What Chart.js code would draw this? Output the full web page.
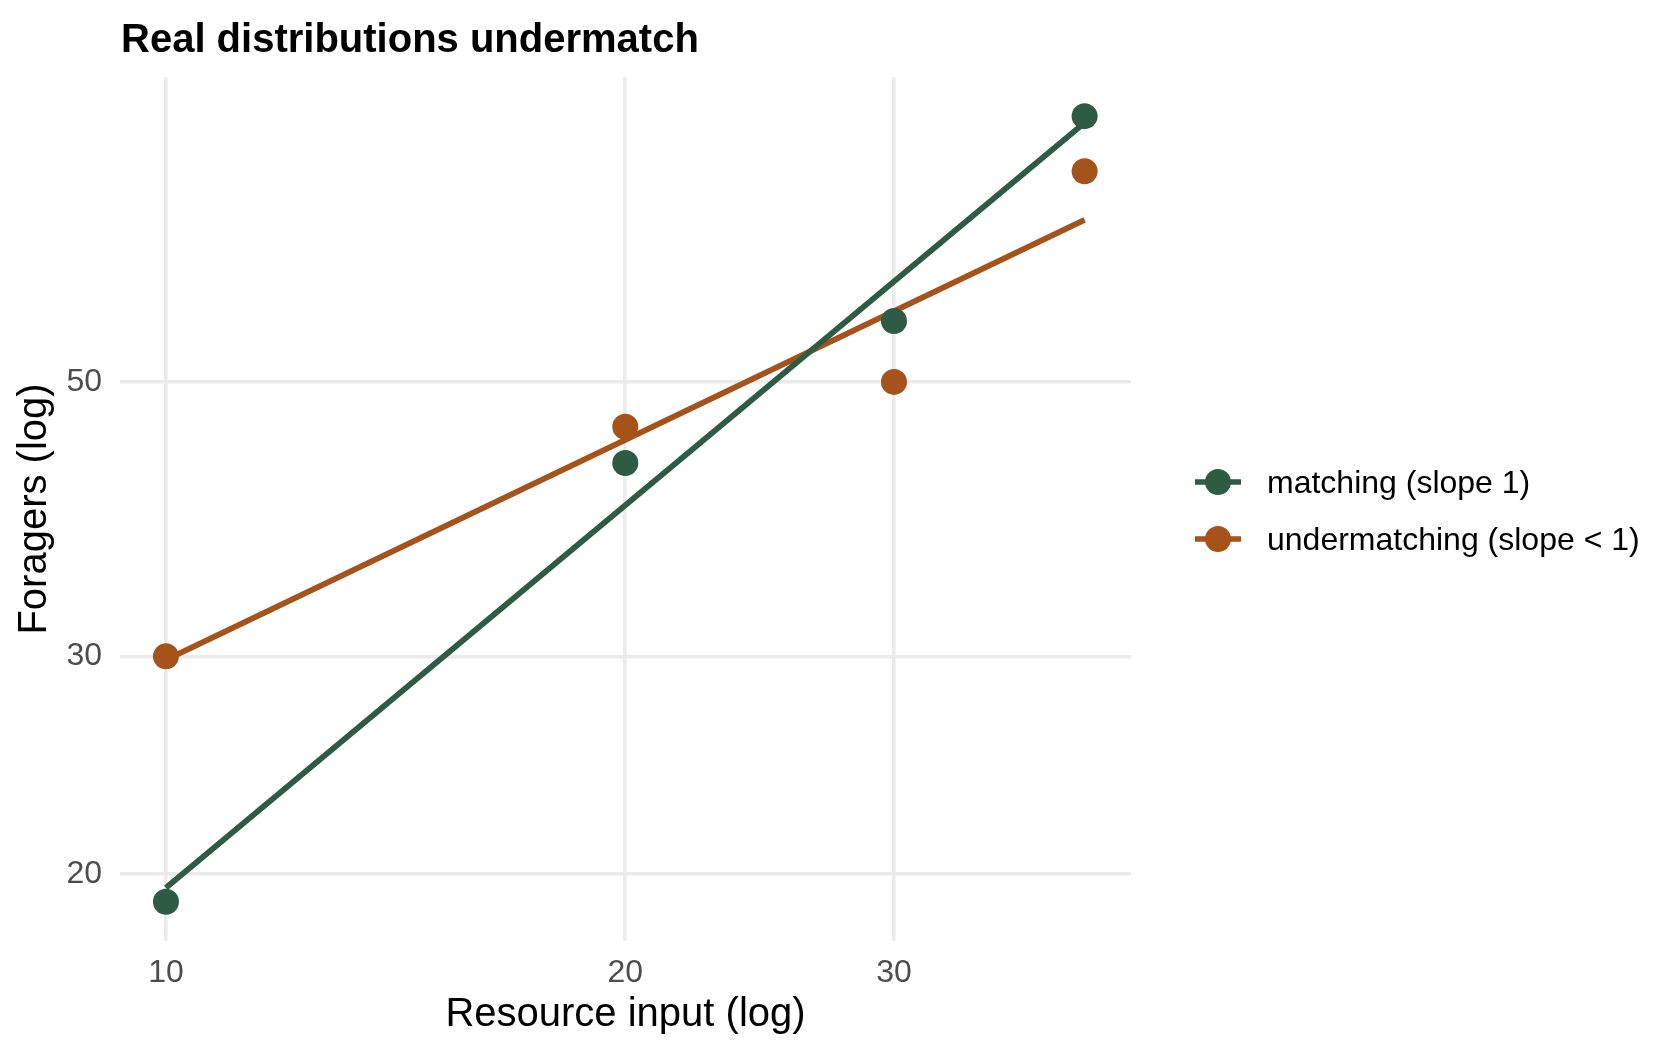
<!DOCTYPE html>
<html>
<head>
<meta charset="utf-8">
<script src="https://cdn.jsdelivr.net/npm/chart.js@4.4.0/dist/chart.umd.min.js"></script>
<style>
  html, body { margin: 0; padding: 0; background: #fff; }
  #wrap { position: relative; width: 1680px; height: 1056px; font-family: "Liberation Sans", Arial, Helvetica, sans-serif; }
  #title { position: absolute; left: 121px; top: 18px; font-size: 40px; line-height: 40px; font-weight: bold; color: #000; white-space: nowrap; }
  .legend-row { position: absolute; left: 1195px; height: 40px; display: flex; align-items: center; font-size: 32px; line-height: 32px; color: #000; white-space: nowrap; }
  .legend-row svg { margin-right: 26px; }
  canvas { position: absolute; left: 0; top: 0; }
</style>
</head>
<body>
<div id="wrap">
  <canvas id="chart" width="1680" height="1056"></canvas>
  <div id="title">Real distributions undermatch</div>
  <div id="legend"></div>
</div>
<script>
// Data (log-log axes)
const resourceInput = [10, 20, 30, 40];
const matchingForagers = [19, 43, 56, 82];
const undermatchingForagers = [30, 46, 50, 74];

// fitted lines, endpoints at the smallest and largest input
const fitInput = [10, 40];
const matchingFit = [19.5, 81];
const undermatchingFit = [29.8, 67.6];

const xTicks = [10, 20, 30];
const yTicks = [20, 30, 50];

const seriesNames = ['matching (slope 1)', 'undermatching (slope < 1)'];
const seriesColors = ['#2d5b43', '#a5521b'];

const FONT = '"Liberation Sans", Arial, Helvetica, sans-serif';

function toPoints(xs, ys) {
  return xs.map((x, i) => ({ x: x, y: ys[i] }));
}

// Legend (html, line through a dot)
function renderLegend() {
  const container = document.getElementById('legend');
  const rowsY = [482, 539];
  container.innerHTML = seriesNames.map((name, i) => `
    <div class="legend-row" style="top:${rowsY[i] - 20}px">
      <svg width="46" height="30" viewBox="0 0 46 30">
        <line x1="0" y1="15" x2="46" y2="15" stroke="${seriesColors[i]}" stroke-width="5.7"/>
        <circle cx="23" cy="15" r="13" fill="${seriesColors[i]}"/>
      </svg>
      <span>${name}</span>
    </div>
  `).join('');
}

function renderChart() {
  const ctx = document.getElementById('chart').getContext('2d');
  new Chart(ctx, {
    type: 'scatter',
    data: {
      datasets: [
        { label: seriesNames[0], data: toPoints(resourceInput, matchingForagers), backgroundColor: seriesColors[0], borderWidth: 0, pointRadius: 13, order: 0 },
        { label: seriesNames[1], data: toPoints(resourceInput, undermatchingForagers), backgroundColor: seriesColors[1], borderWidth: 0, pointRadius: 13, order: 0 },
        { label: 'fit matching', data: toPoints(fitInput, matchingFit), showLine: true, borderColor: seriesColors[0], borderWidth: 5.7, pointRadius: 0, order: 1 },
        { label: 'fit undermatching', data: toPoints(fitInput, undermatchingFit), showLine: true, borderColor: seriesColors[1], borderWidth: 5.7, pointRadius: 0, order: 1 }
      ]
    },
    options: {
      responsive: false,
      animation: false,
      layout: { padding: { left: 0, top: 77, right: 549, bottom: 0 } },
      plugins: { legend: { display: false }, title: { display: false }, tooltip: { enabled: false } },
      scales: {
        x: {
          type: 'logarithmic',
          min: 9.33,
          max: 42.9,
          afterBuildTicks: s => { s.ticks = xTicks.map(v => ({ value: v })); },
          afterFit: s => { s.height = 115; },
          ticks: { callback: v => String(v), color: '#4d4d4d', font: { family: FONT, size: 32 }, padding: 13, maxRotation: 0, autoSkip: false },
          grid: { color: '#ebebeb', lineWidth: 3.6, drawTicks: false },
          border: { display: false },
          title: { display: true, text: 'Resource input (log)', color: '#000', font: { family: FONT, size: 40 }, padding: { top: 0, bottom: 17 } }
        },
        y: {
          type: 'logarithmic',
          min: 17.66,
          max: 88.2,
          afterBuildTicks: s => { s.ticks = yTicks.map(v => ({ value: v })); },
          afterFit: s => { s.width = 120; },
          ticks: { callback: v => String(v), color: '#4d4d4d', font: { family: FONT, size: 32 }, padding: 18, autoSkip: false },
          grid: { color: '#ebebeb', lineWidth: 3.6, drawTicks: false },
          border: { display: false },
          title: { display: true, text: 'Foragers (log)', color: '#000', font: { family: FONT, size: 40 }, padding: { top: 11, bottom: 0 } }
        }
      }
    }
  });
}

renderLegend();
renderChart();
</script>
</body>
</html>
